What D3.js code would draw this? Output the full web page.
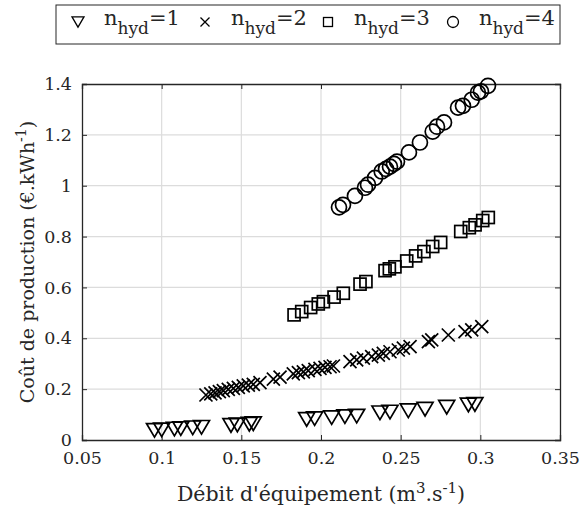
<!DOCTYPE html>
<html><head><meta charset="utf-8">
<script src="https://cdn.jsdelivr.net/npm/d3@7"></script>
<style>body{margin:0;background:#fff}svg{display:block}text{font-family:"DejaVu Serif",serif;fill:#262626}</style>
</head><body><svg id="c" width="580" height="508"></svg>
<script>
const xTicks=[0.05,0.1,0.15,0.2,0.25,0.3,0.35];
const yTicks=[0,0.2,0.4,0.6,0.8,1,1.2,1.4];
const seriesNames=["1","2","3","4"];
const tri_x=[0.0955,0.100,0.108,0.112,0.1195,0.125,0.1435,0.1475,0.155,0.1575,0.191,0.196,0.2067,0.215,0.2224,0.237,0.2433,0.2548,0.2653,0.2789,0.2925,0.2966];
const tri_y=[0.038,0.040,0.043,0.045,0.048,0.050,0.057,0.059,0.062,0.064,0.081,0.084,0.088,0.092,0.094,0.107,0.110,0.115,0.121,0.129,0.138,0.140];
const crs_x=[0.1278,0.1308,0.1335,0.1362,0.1387,0.1418,0.1450,0.1481,0.1512,0.1544,0.1575,0.1617,0.1701,0.1743,0.1826,0.1858,0.1889,0.1920,0.1962,0.1994,0.2025,0.2057,0.2078,0.2182,0.2224,0.2266,0.2318,0.2360,0.2391,0.2433,0.2485,0.2517,0.2559,0.2674,0.2695,0.2799,0.2904,0.2946,0.3009];
const crs_y=[0.177,0.181,0.185,0.190,0.194,0.199,0.203,0.207,0.213,0.216,0.219,0.226,0.239,0.247,0.260,0.265,0.268,0.273,0.278,0.282,0.286,0.288,0.291,0.308,0.315,0.322,0.328,0.334,0.341,0.347,0.354,0.361,0.367,0.387,0.394,0.413,0.426,0.433,0.446];
const sq_x=[0.1831,0.1879,0.1935,0.1983,0.2015,0.2082,0.2140,0.2245,0.2282,0.2402,0.2429,0.2464,0.2538,0.2594,0.2646,0.2701,0.2751,0.2877,0.2931,0.2967,0.3015,0.3050];
const sq_y=[0.492,0.505,0.521,0.535,0.544,0.562,0.577,0.613,0.623,0.666,0.673,0.681,0.704,0.724,0.741,0.761,0.777,0.820,0.835,0.846,0.863,0.875];
const cir_x=[0.2113,0.2138,0.2213,0.2276,0.2295,0.2339,0.2381,0.2408,0.2433,0.2458,0.2477,0.2552,0.2621,0.2701,0.2728,0.2772,0.2860,0.2891,0.2946,0.2985,0.3004,0.3048];
const cir_y=[0.915,0.925,0.960,0.992,1.004,1.031,1.056,1.066,1.075,1.086,1.095,1.131,1.170,1.213,1.232,1.249,1.307,1.314,1.338,1.366,1.371,1.393];

const svg=d3.select("#c");
const L=82,R=560,T=84,B=440;
const x=d3.scaleLinear().domain([0.05,0.35]).range([L,R]);
const y=d3.scaleLinear().domain([0,1.4]).range([B,T]);
const axCol="#262626";
// grid
const g=svg.append("g");
g.selectAll(".gx").data(xTicks.slice(1,-1)).join("line").attr("x1",d=>x(d)).attr("x2",d=>x(d)).attr("y1",T).attr("y2",B).attr("stroke","#dcdcdc").attr("stroke-width",1.2);
g.selectAll(".gy").data(yTicks.slice(1,-1)).join("line").attr("x1",L).attr("x2",R).attr("y1",d=>y(d)).attr("y2",d=>y(d)).attr("stroke","#dcdcdc").attr("stroke-width",1.2);
// axes
const fs=17.5;
const xa=svg.append("g").attr("transform",`translate(0,${B})`).call(d3.axisBottom(x).tickValues(xTicks).tickSize(-5).tickPadding(12).tickFormat(d=>d3.format("")(+d.toFixed(2))));
const xt=svg.append("g").attr("transform",`translate(0,${T})`).call(d3.axisTop(x).tickValues(xTicks).tickSize(-5).tickFormat(""));
const ya=svg.append("g").attr("transform",`translate(${L},0)`).call(d3.axisLeft(y).tickValues(yTicks).tickSize(-5).tickPadding(10).tickFormat(d=>d3.format("")(+d.toFixed(1))));
const yr=svg.append("g").attr("transform",`translate(${R},0)`).call(d3.axisRight(y).tickValues(yTicks).tickSize(-5).tickFormat(""));
[xa,xt,ya,yr].forEach(a=>{a.select(".domain").attr("stroke",axCol).attr("stroke-width",1.3);a.selectAll(".tick line").attr("stroke",axCol).attr("stroke-width",1);a.selectAll("text").attr("font-size",fs).attr("font-family","DejaVu Serif").attr("fill",axCol);});
xa.selectAll("text").attr("dy","0.71em");
// markers
const sw=1.7;
const P=svg.append("g").attr("fill","none").attr("stroke","#000").attr("stroke-width",sw);
function tri(cx,cy,s){const h=s*0.85;return `M${cx-s/2},${cy-h/2}L${cx+s/2},${cy-h/2}L${cx},${cy+h/2}Z`;}
P.selectAll(".t").data(tri_x.map((v,i)=>[v,tri_y[i]])).join("path").attr("d",d=>tri(x(d[0]),y(d[1]),16));
P.selectAll(".x").data(crs_x.map((v,i)=>[v,crs_y[i]])).join("path").attr("d",d=>{const cx=x(d[0]),cy=y(d[1]),s=6.5;return `M${cx-s},${cy-s}L${cx+s},${cy+s}M${cx-s},${cy+s}L${cx+s},${cy-s}`;});
P.selectAll(".s").data(sq_x.map((v,i)=>[v,sq_y[i]])).join("rect").attr("x",d=>x(d[0])-6).attr("y",d=>y(d[1])-6).attr("width",12).attr("height",12);
P.selectAll(".c").data(cir_x.map((v,i)=>[v,cir_y[i]])).join("circle").attr("cx",d=>x(d[0])).attr("cy",d=>y(d[1])).attr("r",7.5);
// axis titles
const xl=svg.append("text").attr("x",(L+R)/2).attr("y",501).attr("text-anchor","middle").attr("font-size",20.5);
xl.append("tspan").text("Débit d'équipement (m");
xl.append("tspan").attr("dy",-8).attr("font-size",15).text("3");
xl.append("tspan").attr("dy",8).text(".s");
xl.append("tspan").attr("dy",-8).attr("font-size",15).text("-1");
xl.append("tspan").attr("dy",8).text(")");
const yl=svg.append("text").attr("transform",`translate(34,${(T+B)/2}) rotate(-90)`).attr("text-anchor","middle").attr("font-size",19);
yl.append("tspan").text("Coût de production (€.kWh");
yl.append("tspan").attr("dy",-8).attr("font-size",14).text("-1");
yl.append("tspan").attr("dy",8).text(")");
// legend
const lg=svg.append("g");
lg.append("rect").attr("x",56).attr("y",5).attr("width",504).attr("height",39).attr("fill","#fff").attr("stroke",axCol).attr("stroke-width",1);
const lx=[78,205,328,453];
const ly=22;
const LP=lg.append("g").attr("fill","none").attr("stroke","#000").attr("stroke-width",1.3);
LP.append("path").attr("d",tri(lx[0],ly,12));
LP.append("path").attr("d",`M${lx[1]-4.5},${ly-4.5}L${lx[1]+4.5},${ly+4.5}M${lx[1]-4.5},${ly+4.5}L${lx[1]+4.5},${ly-4.5}`);
LP.append("rect").attr("x",lx[2]-4.5).attr("y",ly-4.5).attr("width",9).attr("height",9);
LP.append("circle").attr("cx",lx[3]).attr("cy",ly).attr("r",5.5);
seriesNames.forEach((n,i)=>{
  const t=lg.append("text").attr("x",lx[i]+26).attr("y",ly+3).attr("font-size",21);
  t.append("tspan").text("n");
  t.append("tspan").attr("dy",9).attr("font-size",17).text("hyd");
  t.append("tspan").attr("dy",-9).text("="+n);
});
</script></body></html>
